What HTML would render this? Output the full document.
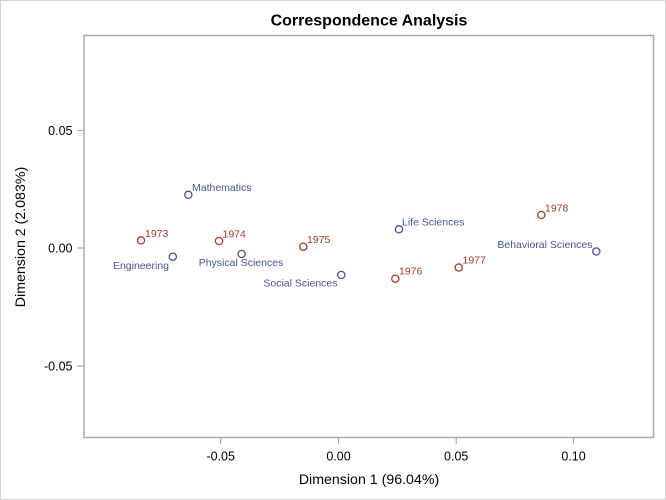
<!DOCTYPE html>
<html>
<head>
<meta charset="utf-8">
<style>
  html, body { margin: 0; padding: 0; background: #fff; }
  svg { display: block; }
  text { font-family: "Liberation Sans", "DejaVu Sans", sans-serif; }
</style>
</head>
<body>
<svg width="666" height="500" viewBox="0 0 666 500" xmlns="http://www.w3.org/2000/svg">
  <!-- outer border -->
  <rect x="0.5" y="0.5" width="665" height="499" fill="#fff" stroke="#d3d3d3" stroke-width="1"/>

  <!-- title -->
  <text x="369" y="25.5" text-anchor="middle" font-size="16" font-weight="bold" fill="#000">Correspondence Analysis</text>

  <!-- plot frame -->
  <rect x="84" y="35.5" width="569.5" height="402" fill="none" stroke="#aaaaaa" stroke-width="1.5"/>

  <!-- y ticks -->
  <g stroke="#aaaaaa" stroke-width="1.2">
    <line x1="77" y1="130.5" x2="84" y2="130.5"/>
    <line x1="77" y1="248" x2="84" y2="248"/>
    <line x1="77" y1="366" x2="84" y2="366"/>
  </g>
  <g font-size="12.5" fill="#000" text-anchor="end">
    <text x="72.5" y="135">0.05</text>
    <text x="72.5" y="252.5">0.00</text>
    <text x="72.5" y="370.5">-0.05</text>
  </g>

  <!-- x ticks -->
  <g stroke="#aaaaaa" stroke-width="1.2">
    <line x1="220.7" y1="437.5" x2="220.7" y2="444"/>
    <line x1="338.5" y1="437.5" x2="338.5" y2="444"/>
    <line x1="456.2" y1="437.5" x2="456.2" y2="444"/>
    <line x1="573.5" y1="437.5" x2="573.5" y2="444"/>
  </g>
  <g font-size="12.5" fill="#000" text-anchor="middle">
    <text x="220.7" y="460.5">-0.05</text>
    <text x="338.5" y="460.5">0.00</text>
    <text x="456.2" y="460.5">0.05</text>
    <text x="573.5" y="460.5">0.10</text>
  </g>

  <!-- axis titles -->
  <text x="369" y="484" text-anchor="middle" font-size="14.2" fill="#000">Dimension 1 (96.04%)</text>
  <text transform="translate(25,237) rotate(-90)" text-anchor="middle" font-size="14.2" fill="#000">Dimension 2 (2.083%)</text>

  <!-- blue points (columns) -->
  <g fill="none" stroke="#445694" stroke-width="1.3">
    <circle cx="188.3" cy="194.8" r="3.6"/>
    <circle cx="172.8" cy="256.7" r="3.6"/>
    <circle cx="241.6" cy="254" r="3.6"/>
    <circle cx="341.3" cy="275" r="3.6"/>
    <circle cx="399" cy="229.3" r="3.6"/>
    <circle cx="596.3" cy="251.5" r="3.6"/>
  </g>
  <g font-size="10.5" fill="#445694">
    <text x="192" y="191">Mathematics</text>
    <text x="169" y="269" text-anchor="end">Engineering</text>
    <text x="241" y="266" text-anchor="middle">Physical Sciences</text>
    <text x="337.5" y="286.5" text-anchor="end">Social Sciences</text>
    <text x="402" y="225.5">Life Sciences</text>
    <text x="592.5" y="248" text-anchor="end">Behavioral Sciences</text>
  </g>

  <!-- red points (rows) -->
  <g fill="none" stroke="#A23A2E" stroke-width="1.3">
    <circle cx="141" cy="240.4" r="3.6"/>
    <circle cx="219" cy="241" r="3.6"/>
    <circle cx="303.3" cy="246.7" r="3.6"/>
    <circle cx="395.3" cy="278.7" r="3.6"/>
    <circle cx="458.7" cy="267.5" r="3.6"/>
    <circle cx="541.3" cy="215" r="3.6"/>
  </g>
  <g font-size="10.5" fill="#A23A2E">
    <text x="145" y="237">1973</text>
    <text x="222.5" y="237.5">1974</text>
    <text x="307" y="243">1975</text>
    <text x="399" y="274.5">1976</text>
    <text x="462.5" y="263.5">1977</text>
    <text x="545" y="211.5">1978</text>
  </g>
</svg>
</body>
</html>
